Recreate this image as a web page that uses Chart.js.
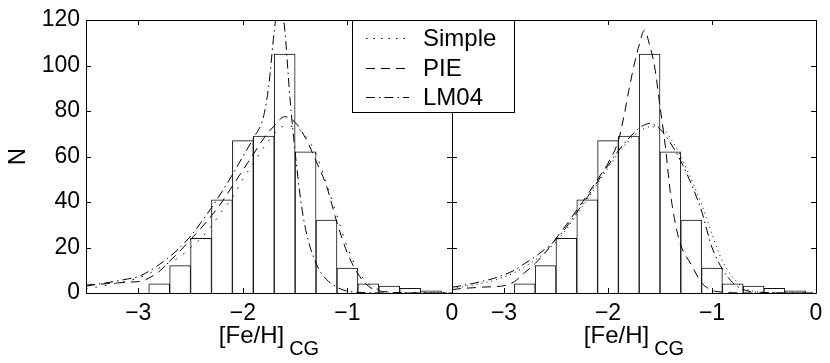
<!DOCTYPE html>
<html>
<head>
<meta charset="utf-8">
<script src="https://cdn.jsdelivr.net/npm/chart.js@4.4.1/dist/chart.umd.min.js"></script>
<style>
  body { margin: 0; background: #fff; }
  #wrap { position: relative; width: 830px; height: 363px; }
  #wrap canvas { position: absolute; left: 0; top: 0; }
</style>
</head>
<body>
<div id="wrap">
  <canvas id="leftChart" width="830" height="363"></canvas>
  <canvas id="rightChart" width="830" height="363"></canvas>
</div>
<script>
const FONT = '"Liberation Sans", Arial, Helvetica, sans-serif';

const xTicks = [-3, -2, -1, 0];
const yTicks = [0, 20, 40, 60, 80, 100, 120];
const xTitle = '[Fe/H]';
const xTitleSub = 'CG';
const yTitle = 'N';
const modelNames = ['Simple', 'PIE', 'LM04'];

// histogram, 0.2 dex bins (same in both panels)
const binCenters = [-2.8, -2.6, -2.4, -2.2, -2.0, -1.8, -1.6, -1.4, -1.2, -1.0, -0.8, -0.6, -0.4, -0.2];
const binCounts = [4, 12, 24, 41, 67, 69, 105, 62, 32, 11, 4, 3, 2, 1];

// common [Fe/H] grid for the smooth curves
const feh = [-3.5, -3.4, -3.3, -3.2, -3.1, -3.0, -2.9, -2.8, -2.7, -2.6, -2.5, -2.4, -2.3, -2.2, -2.1, -2.0, -1.9, -1.8,
             -1.7, -1.6, -1.5, -1.4, -1.3, -1.2, -1.1, -1.0, -0.9, -0.8, -0.7, -0.6, -0.5, -0.4, -0.3, -0.2, -0.1, 0];

// left panel
const simpleLeft = [2.0, 2.6, 3.4, 4.3, 5.3, 6.6, 8.5, 11, 13.5, 16, 20, 24, 29.5, 36, 42, 50, 57, 64,
                    70, 73.4, 73, 69, 61, 48, 34, 20, 10, 4, 1.5, 0.5, 0.2, 0.1, 0, 0, 0, 0];
const pieLeft = [3.5, 3.8, 4.1, 4.4, 4.8, 5.0, 6.5, 9.5, 14, 18.5, 23.5, 28.5, 34, 40, 47, 54, 61, 68,
                 73.5, 77.5, 75, 68, 58, 47, 31, 17.5, 8.5, 3, 1, 0.3, 0.1, 0, 0, 0, 0, 0];
const lmLeftX = [-3.5, -3.4, -3.3, -3.2, -3.1, -3.0, -2.9, -2.8, -2.7, -2.6, -2.5, -2.4, -2.3, -2.2, -2.1, -2.0, -1.9, -1.8,
                 -1.75, -1.7, -1.65, -1.6, -1.55, -1.5, -1.45, -1.4, -1.3, -1.2, -1.1, -1.0, -0.9, -0.8, -0.6, -0.4, -0.2, 0];
const lmLeft = [3, 3.8, 4.5, 5.3, 6.2, 7.2, 9.5, 12.5, 16, 20, 25, 31, 37.5, 44.5, 52, 60, 68, 78,
                92, 115, 130, 116, 86, 62, 42, 28, 13, 6, 2.5, 0.8, 0.3, 0.1, 0, 0, 0, 0];

// right panel
const simpleRight = [2, 2.7, 3.5, 4.4, 5.5, 7, 9, 11.5, 14.5, 18, 22.5, 28, 34.5, 41, 48, 55, 61.5, 67,
                     71, 73, 73, 68, 60, 50, 39, 26, 14, 7, 2.5, 0.8, 0.3, 0.1, 0, 0, 0, 0];
const pieRightX = [-3.5, -3.4, -3.3, -3.2, -3.1, -3.0, -2.9, -2.8, -2.7, -2.6, -2.5, -2.4, -2.3, -2.2, -2.1, -2.0, -1.9, -1.85,
                   -1.8, -1.75, -1.7, -1.65, -1.6, -1.55, -1.5, -1.45, -1.4, -1.35, -1.3, -1.2, -1.1, -1.0, -0.9, -0.8, -0.6, 0];
const pieRight = [1.5, 2, 2.3, 2.6, 2.8, 3.2, 5, 9, 13, 18, 24, 30, 36.5, 43, 50, 57, 67, 77,
                  89, 100, 109, 115.5, 109, 99, 82, 65, 44, 30, 21, 12.5, 4.5, 1.2, 0.4, 0.1, 0, 0];
const lmRight = [2.5, 3.3, 4.2, 5.2, 6.4, 8, 10, 13, 16, 19.5, 23.5, 29, 35.5, 42, 49, 56, 62.5, 68,
                 72.5, 74.5, 72, 66, 58, 48, 36, 20, 10.5, 4.5, 1.5, 0.5, 0.2, 0, 0, 0, 0, 0];

const dashes = {
    Simple: [1.5, 6],
    PIE: [9, 6],
    LM04: [9, 4, 1.5, 4]
};

function pts(xs, ys) {
    return xs.map((x, i) => ({x: x, y: ys[i]}));
}

function histDataset() {
    return {
        type: 'bar',
        data: pts(binCenters, binCounts),
        backgroundColor: '#fff',
        borderColor: '#111',
        borderWidth: 1,
        barPercentage: 1,
        categoryPercentage: 1,
        order: 3
    };
}

function curveDataset(name, data, dash) {
    return {
        type: 'line',
        label: name,
        data: data,
        borderColor: '#000',
        borderWidth: 1,
        borderDash: dash,
        pointRadius: 0,
        fill: false,
        cubicInterpolationMode: 'monotone',
        order: 1
    };
}

// box with inward ticks on all four sides
const panelFrame = {
    id: 'panelFrame',
    afterDatasetsDraw(chart) {
        const {ctx, chartArea: a, scales: {x, y}} = chart;
        ctx.save();
        ctx.strokeStyle = '#000';
        ctx.lineWidth = 1;
        ctx.beginPath();
        ctx.rect(a.left + 0.5, a.top + 0.5, a.right - a.left, a.bottom - a.top);
        xTicks.forEach(v => {
            const px = Math.round(x.getPixelForValue(v)) + 0.5;
            ctx.moveTo(px, a.top); ctx.lineTo(px, a.top + 5);
            ctx.moveTo(px, a.bottom); ctx.lineTo(px, a.bottom - 5);
        });
        yTicks.forEach(v => {
            const py = Math.round(y.getPixelForValue(v)) + 0.5;
            ctx.moveTo(a.left, py); ctx.lineTo(a.left + 5, py);
            ctx.moveTo(a.right, py); ctx.lineTo(a.right - 5, py);
        });
        ctx.stroke();
        ctx.restore();
    }
};

// [Fe/H] with CG subscript under each panel
const fehTitle = {
    id: 'fehTitle',
    afterDraw(chart) {
        const {ctx, chartArea: a} = chart;
        ctx.save();
        ctx.fillStyle = '#000';
        ctx.textBaseline = 'alphabetic';
        ctx.textAlign = 'left';
        ctx.font = '24px ' + FONT;
        const w1 = ctx.measureText(xTitle).width;
        ctx.font = '20px ' + FONT;
        const w2 = ctx.measureText(xTitleSub).width;
        const gap = 5;
        const x0 = (a.left + a.right) / 2 - (w1 + gap + w2) / 2;
        ctx.font = '24px ' + FONT;
        ctx.fillText(xTitle, x0, a.bottom + 50);
        ctx.font = '20px ' + FONT;
        ctx.fillText(xTitleSub, x0 + w1 + gap, a.bottom + 62);
        ctx.restore();
    }
};

// legend box straddling the two panels
const modelLegend = {
    id: 'modelLegend',
    afterDraw(chart) {
        const ctx = chart.ctx;
        const box = {left: 352, top: 20, width: 162, height: 92};
        ctx.save();
        ctx.fillStyle = '#fff';
        ctx.fillRect(box.left, box.top, box.width, box.height);
        ctx.strokeStyle = '#000';
        ctx.lineWidth = 1;
        ctx.strokeRect(box.left + 0.5, box.top + 0.5, box.width, box.height);
        ctx.font = '24px ' + FONT;
        ctx.textBaseline = 'middle';
        ctx.fillStyle = '#000';
        modelNames.forEach((name, i) => {
            const yy = Math.round(box.top + 18 + i * 29.5) + 0.5;
            ctx.setLineDash(dashes[name]);
            ctx.beginPath();
            ctx.moveTo(box.left + 14, yy);
            ctx.lineTo(box.left + 57, yy);
            ctx.stroke();
            ctx.setLineDash([]);
            ctx.fillText(name, box.left + 71, yy + 1);
        });
        ctx.restore();
    }
};

function minusLabel(v) {
    return v < 0 ? '\u2212' + Math.abs(v) : String(v);
}

function panelOptions(showY, padLeft, padRight) {
    return {
        responsive: false,
        animation: false,
        layout: {padding: {left: padLeft, right: padRight, top: 20, bottom: 0}},
        plugins: {legend: {display: false}, tooltip: {enabled: false}},
        scales: {
            x: {
                type: 'linear',
                offset: false,
                min: -3.5,
                max: 0,
                afterBuildTicks: s => { s.ticks = xTicks.map(v => ({value: v})); },
                afterFit: s => { s.height = 70; },
                grid: {display: false, drawTicks: false},
                border: {display: false},
                ticks: {
                    color: '#000',
                    font: {size: 23, family: FONT},
                    padding: 7,
                    maxRotation: 0,
                    callback: v => minusLabel(v)
                }
            },
            y: {
                display: showY,
                min: 0,
                max: 120,
                afterBuildTicks: s => { s.ticks = yTicks.map(v => ({value: v})); },
                afterFit: s => { s.width = showY ? 86 : 0; },
                grid: {display: false, drawTicks: false},
                border: {display: false},
                ticks: {color: '#000', font: {size: 23, family: FONT}, padding: 6},
                title: {
                    display: true,
                    text: yTitle,
                    color: '#000',
                    font: {size: 24, family: FONT},
                    padding: {top: 4, bottom: 0}
                }
            }
        }
    };
}

function initLeftChart() {
    const ctx = document.getElementById('leftChart').getContext('2d');
    window.leftChart = new Chart(ctx, {
        type: 'bar',
        data: {
            datasets: [
                histDataset(),
                curveDataset('Simple', pts(feh, simpleLeft), [1.5, 8]),
                curveDataset('PIE', pts(feh, pieLeft), dashes.PIE),
                curveDataset('LM04', pts(lmLeftX, lmLeft), dashes.LM04)
            ]
        },
        options: panelOptions(true, 0, 378),
        plugins: [panelFrame, fehTitle]
    });
}

function initRightChart() {
    const ctx = document.getElementById('rightChart').getContext('2d');
    window.rightChart = new Chart(ctx, {
        type: 'bar',
        data: {
            datasets: [
                histDataset(),
                curveDataset('Simple', pts(feh, simpleRight), [1, 4]),
                curveDataset('PIE', pts(pieRightX, pieRight), dashes.PIE),
                curveDataset('LM04', pts(feh, lmRight), dashes.LM04)
            ]
        },
        options: panelOptions(false, 452, 14),
        plugins: [panelFrame, fehTitle, modelLegend]
    });
}

Chart.defaults.font.family = FONT;
initLeftChart();
initRightChart();
</script>
</body>
</html>
